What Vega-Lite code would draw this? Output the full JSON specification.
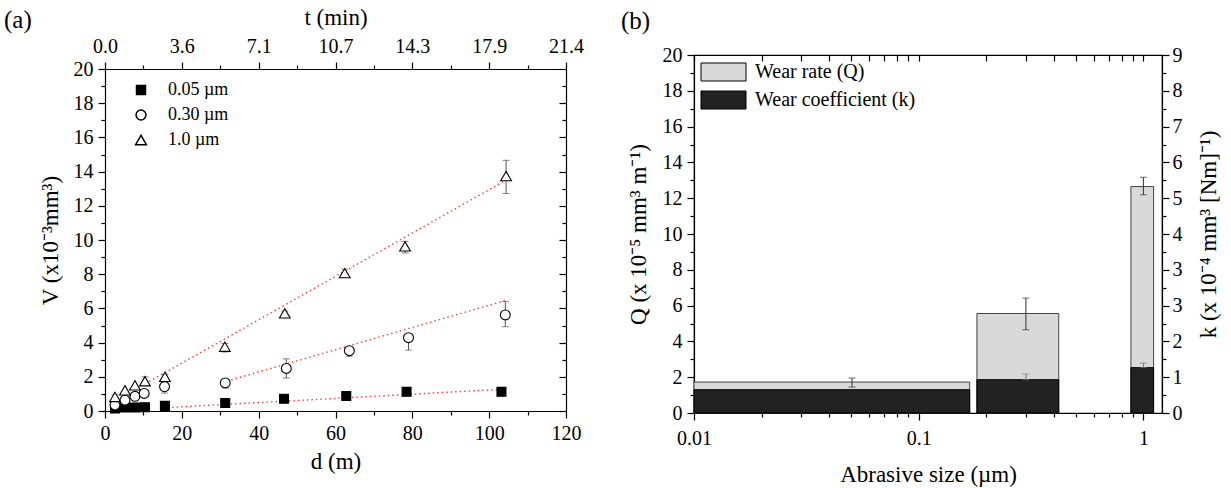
{
  "$schema": "https://vega.github.io/schema/vega-lite/v6.json",
  "background": "white",
  "autosize": {"type": "pad"},
  "padding": {"left": 4, "top": 6, "right": 0, "bottom": 0},
  "spacing": 36,
  "datasets": {
    "pts": [
      {"series": "0.05 µm", "d": 2.6, "V": 0.15, "lo": 0.15, "hi": 0.15},
      {"series": "0.05 µm", "d": 5.2, "V": 0.2, "lo": 0.2, "hi": 0.2},
      {"series": "0.05 µm", "d": 7.8, "V": 0.21, "lo": 0.21, "hi": 0.21},
      {"series": "0.05 µm", "d": 10.4, "V": 0.22, "lo": 0.22, "hi": 0.22},
      {"series": "0.05 µm", "d": 15.6, "V": 0.3, "lo": 0.3, "hi": 0.3},
      {"series": "0.05 µm", "d": 31.3, "V": 0.47, "lo": 0.47, "hi": 0.47},
      {"series": "0.05 µm", "d": 46.6, "V": 0.72, "lo": 0.72, "hi": 0.72},
      {"series": "0.05 µm", "d": 62.8, "V": 0.88, "lo": 0.78, "hi": 0.98},
      {"series": "0.05 µm", "d": 78.5, "V": 1.12, "lo": 1.12, "hi": 1.12},
      {"series": "0.05 µm", "d": 103.2, "V": 1.12, "lo": 1.12, "hi": 1.12},
      {"series": "0.30 µm", "d": 2.6, "V": 0.35, "lo": 0.35, "hi": 0.35},
      {"series": "0.30 µm", "d": 5.2, "V": 0.63, "lo": 0.63, "hi": 0.63},
      {"series": "0.30 µm", "d": 7.8, "V": 0.86, "lo": 0.86, "hi": 0.86},
      {"series": "0.30 µm", "d": 10.2, "V": 1.03, "lo": 1.03, "hi": 1.03},
      {"series": "0.30 µm", "d": 15.5, "V": 1.43, "lo": 1.05, "hi": 1.55},
      {"series": "0.30 µm", "d": 31.3, "V": 1.64, "lo": 1.35, "hi": 1.85},
      {"series": "0.30 µm", "d": 47.2, "V": 2.49, "lo": 1.93, "hi": 3.05},
      {"series": "0.30 µm", "d": 63.6, "V": 3.53, "lo": 3.2, "hi": 3.75},
      {"series": "0.30 µm", "d": 79.0, "V": 4.29, "lo": 3.56, "hi": 4.4},
      {"series": "0.30 µm", "d": 104.2, "V": 5.62, "lo": 4.93, "hi": 6.4},
      {"series": "1.0 µm", "d": 2.6, "V": 0.82, "lo": 0.65, "hi": 0.95},
      {"series": "1.0 µm", "d": 5.2, "V": 1.21, "lo": 1.21, "hi": 1.21},
      {"series": "1.0 µm", "d": 7.8, "V": 1.5, "lo": 1.5, "hi": 1.5},
      {"series": "1.0 µm", "d": 10.4, "V": 1.74, "lo": 1.5, "hi": 2.0},
      {"series": "1.0 µm", "d": 15.6, "V": 2.0, "lo": 1.85, "hi": 2.15},
      {"series": "1.0 µm", "d": 31.2, "V": 3.76, "lo": 3.45, "hi": 3.95},
      {"series": "1.0 µm", "d": 46.8, "V": 5.71, "lo": 5.55, "hi": 5.85},
      {"series": "1.0 µm", "d": 62.4, "V": 8.06, "lo": 7.85, "hi": 8.3},
      {"series": "1.0 µm", "d": 78.1, "V": 9.63, "lo": 9.24, "hi": 9.92},
      {"series": "1.0 µm", "d": 104.4, "V": 13.74, "lo": 12.72, "hi": 14.66}
    ],
    "fits": [
      {"series": "1.0 µm", "d": 11.5, "V": 1.72},
      {"series": "1.0 µm", "d": 103.6, "V": 13.4},
      {"series": "0.30 µm", "d": 30.6, "V": 1.67},
      {"series": "0.30 µm", "d": 104.2, "V": 6.46},
      {"series": "0.05 µm", "d": 16.3, "V": 0.2},
      {"series": "0.05 µm", "d": 103.2, "V": 1.27}
    ],
    "bars": [
      {"size": "0.05", "x0": 0.01, "x1": 0.1686, "xe": 0.0505, "Q": 1.73, "Qlo": 1.45, "Qhi": 1.95, "k": 0.585, "khi": 0.585},
      {"size": "0.30", "x0": 0.1816, "x1": 0.42, "xe": 0.3, "Q": 5.56, "Qlo": 4.65, "Qhi": 6.42, "k": 0.837, "khi": 0.98},
      {"size": "1.0", "x0": 0.88, "x1": 1.11, "xe": 1.0, "Q": 12.65, "Qlo": 12.19, "Qhi": 13.17, "k": 1.14, "khi": 1.255}
    ]
  },
  "resolve": {
    "scale": {"shape": "independent", "fill": "independent", "size": "independent"},
    "legend": {"shape": "independent", "fill": "independent", "size": "independent"}
  },
  "config": {
    "font": "Liberation Serif",
    "view": {"stroke": "black", "strokeWidth": 1.2},
    "axis": {
      "labelFont": "Liberation Serif", "labelFontSize": 20, "labelColor": "black",
      "titleFont": "Liberation Serif", "titleFontSize": 23, "titleFontWeight": "normal", "titleColor": "black",
      "tickColor": "black", "domainColor": "black", "tickWidth": 1.2, "domainWidth": 1.2,
      "grid": false, "labelFlush": false, "labelOverlap": false
    },
    "legend": {"labelFont": "Liberation Serif", "labelColor": "black"},
    "title": {"font": "Liberation Serif", "fontWeight": "normal", "color": "black"}
  },
  "hconcat": [
    {
      "width": 461,
      "height": 356,
      "view": {"stroke": null},
      "title": {"text": "(a)", "anchor": "start", "frame": "bounds", "fontSize": 25, "offset": 0, "dx": -35, "dy": 27},
      "resolve": {"axis": {"x": "independent", "y": "independent"}},
      "layer": [
        {
          "data": {"name": "pts"},
          "transform": [{"filter": "datum.hi > datum.lo"}],
          "mark": {"type": "errorbar", "ticks": {"size": 7, "color": "#555"}, "rule": {"color": "#555"}, "thickness": 1},
          "encoding": {
            "x": {"field": "d", "type": "quantitative", "scale": {"domain": [0, 120], "nice": false}, "axis": null},
            "y": {"field": "lo", "type": "quantitative", "scale": {"domain": [0, 20], "nice": false, "range": [356, 14]}, "axis": null},
            "y2": {"field": "hi"}
          }
        },
        {
          "data": {"name": "fits"},
          "mark": {"type": "line", "color": "#ff3b3b", "strokeDash": [1.5, 3], "strokeWidth": 1.4},
          "encoding": {
            "x": {"field": "d", "type": "quantitative", "scale": {"domain": [0, 120], "nice": false},
              "axis": {"orient": "bottom", "values": [10, 30, 50, 70, 90, 110], "tickSize": 4, "labels": false, "domain": false, "title": null}},
            "y": {"field": "V", "type": "quantitative", "scale": {"domain": [0, 20], "nice": false, "range": [356, 14]},
              "axis": {"orient": "left", "values": [1, 3, 5, 7, 9, 11, 13, 15, 17, 19], "tickSize": 4, "labels": false, "domain": false, "title": null}},
            "detail": {"field": "series"}
          }
        },
        {
          "data": {"name": "pts"},
          "mark": {"type": "point", "opacity": 0},
          "encoding": {
            "x": {"field": "d", "type": "quantitative", "scale": {"domain": [0, 120], "nice": false},
              "axis": {"orient": "top", "offset": -14, "values": [0, 20, 40, 60, 80, 100, 120], "tickSize": 7, "labelPadding": 6,
                "labelExpr": "format(datum.value * 0.1787, '.1f')", "domain": true, "title": "t (min)", "titlePadding": 7}},
            "y": {"field": "V", "type": "quantitative", "scale": {"domain": [0, 20], "nice": false, "range": [356, 14]},
              "axis": {"orient": "right", "values": [0, 2, 4, 6, 8, 10, 12, 14, 16, 18, 20], "tickSize": -7, "labels": false, "domain": true, "title": null}}
          }
        },
        {
          "data": {"name": "pts"},
          "mark": {"type": "point", "opacity": 0},
          "encoding": {
            "x": {"field": "d", "type": "quantitative", "scale": {"domain": [0, 120], "nice": false},
              "axis": {"orient": "top", "offset": -14, "values": [10, 30, 50, 70, 90, 110], "tickSize": 4, "labels": false, "domain": false, "title": null}},
            "y": {"field": "V", "type": "quantitative", "scale": {"domain": [0, 20], "nice": false, "range": [356, 14]},
              "axis": {"orient": "right", "values": [1, 3, 5, 7, 9, 11, 13, 15, 17, 19], "tickSize": -4, "labels": false, "domain": false, "title": null}}
          }
        },
        {
          "data": {"name": "pts"},
          "mark": {"type": "point", "filled": true, "stroke": "black", "strokeWidth": 1.1, "opacity": 1},
          "encoding": {
            "x": {"field": "d", "type": "quantitative", "scale": {"domain": [0, 120], "nice": false},
              "axis": {"orient": "bottom", "values": [0, 20, 40, 60, 80, 100, 120], "tickSize": 7, "labelPadding": 5, "title": "d (m)", "titlePadding": 7}},
            "y": {"field": "V", "type": "quantitative", "scale": {"domain": [0, 20], "nice": false, "range": [356, 14]},
              "axis": {"orient": "left", "values": [0, 2, 4, 6, 8, 10, 12, 14, 16, 18, 20], "tickSize": 7, "labelPadding": 5, "title": "V (x10⁻³mm³)", "titlePadding": 11}},
            "shape": {"field": "series", "type": "nominal",
              "scale": {"domain": ["0.05 µm", "0.30 µm", "1.0 µm"], "range": ["square", "circle", "triangle-up"]},
              "legend": {"title": null, "orient": "none", "legendX": 27, "legendY": 26, "padding": 0, "labelFontSize": 18, "labelOffset": 18, "rowPadding": 7,
                "encode": {"symbols": {"update": {"stroke": {"value": "black"}, "strokeWidth": {"value": 1.1}}}}}},
            "fill": {"field": "series", "type": "nominal",
              "scale": {"domain": ["0.05 µm", "0.30 µm", "1.0 µm"], "range": ["black", "white", "white"]},
              "legend": {"title": null, "orient": "none", "legendX": 27, "legendY": 26, "padding": 0, "labelFontSize": 18, "labelOffset": 18, "rowPadding": 7,
                "encode": {"symbols": {"update": {"stroke": {"value": "black"}, "strokeWidth": {"value": 1.1}}}}}},
            "size": {"field": "series", "type": "nominal",
              "scale": {"domain": ["0.05 µm", "0.30 µm", "1.0 µm"], "range": [80, 115, 140]},
              "legend": {"title": null, "orient": "none", "legendX": 27, "legendY": 26, "padding": 0, "labelFontSize": 18, "labelOffset": 18, "rowPadding": 7,
                "encode": {"symbols": {"update": {"stroke": {"value": "black"}, "strokeWidth": {"value": 1.1}}}}}}
          }
        }
      ]
    },
    {
      "width": 468,
      "height": 358,
      "title": {"text": "(b)", "anchor": "start", "frame": "bounds", "fontSize": 25, "offset": 11, "dx": -6},
      "resolve": {"scale": {"y": "independent"}, "axis": {"x": "independent", "y": "independent"}},
      "layer": [
        {
          "data": {"name": "bars"},
          "mark": {"type": "rect", "stroke": "#444", "strokeWidth": 1},
          "encoding": {
            "x": {"field": "x0", "type": "quantitative", "scale": {"type": "log", "domain": [0.01, 1.21], "nice": false},
              "axis": {"orient": "bottom", "values": [0.01, 0.1, 1], "format": "~g", "tickSize": 7, "labelPadding": 8, "title": "Abrasive size (µm)", "titlePadding": 15}},
            "x2": {"field": "x1"},
            "y": {"field": "Q", "type": "quantitative", "scale": {"domain": [0, 20], "nice": false},
              "axis": {"orient": "left", "values": [0, 2, 4, 6, 8, 10, 12, 14, 16, 18, 20], "tickSize": 7, "labelPadding": 5, "title": "Q (x 10⁻⁵ mm³ m⁻¹)", "titlePadding": 12}},
            "y2": {"datum": 0},
            "fill": {"datum": "Wear rate (Q)", "type": "nominal",
              "scale": {"domain": ["Wear rate (Q)", "Wear coefficient (k)"], "range": ["#d9d9d9", "#222222"]},
              "legend": {"title": null, "orient": "none", "legendX": 19.5, "legendY": 7, "padding": 0,
                "symbolType": "M-2.5,-1H2.5V1H-2.5Z", "symbolSize": 324, "symbolStrokeColor": "#333", "symbolStrokeWidth": 1,
                "labelFontSize": 20, "labelOffset": 21.5, "labelLimit": 400, "rowPadding": 6}}
          }
        },
        {
          "data": {"name": "bars"},
          "mark": {"type": "rect", "stroke": "black", "strokeWidth": 1},
          "encoding": {
            "x": {"field": "x0", "type": "quantitative", "scale": {"type": "log", "domain": [0.01, 1.21], "nice": false},
              "axis": {"orient": "top", "values": [0.01, 0.02, 0.03, 0.04, 0.05, 0.06, 0.07, 0.08, 0.09, 0.1, 0.2, 0.3, 0.4, 0.5, 0.6, 0.7, 0.8, 0.9, 1], "tickSize": -6, "labels": false, "domain": false, "title": null}},
            "x2": {"field": "x1"},
            "y": {"field": "k", "type": "quantitative", "scale": {"domain": [0, 9], "nice": false},
              "axis": {"orient": "right", "values": [0, 0.9, 1.8, 2.7, 3.6, 4.5, 5.4, 6.3, 7.2, 8.1, 9], "tickSize": 7, "labelPadding": 3,
                "labelExpr": "['0','1','2','3','3','4','5','6','7','8','9'][round(datum.value / 0.9)]",
                "title": "k (x 10⁻⁴ mm³ [Nm]⁻¹)", "titleAngle": 270, "titleBaseline": "top", "titlePadding": 15}},
            "y2": {"datum": 0},
            "fill": {"datum": "Wear coefficient (k)", "type": "nominal"}
          }
        },
        {
          "data": {"name": "bars"},
          "mark": {"type": "point", "opacity": 0},
          "encoding": {
            "x": {"field": "xe", "type": "quantitative", "scale": {"type": "log", "domain": [0.01, 1.21], "nice": false},
              "axis": {"orient": "bottom", "values": [0.02, 0.03, 0.04, 0.05, 0.06, 0.07, 0.08, 0.09, 0.2, 0.3, 0.4, 0.5, 0.6, 0.7, 0.8, 0.9], "tickSize": 4, "labels": false, "domain": false, "title": null}},
            "y": {"field": "Q", "type": "quantitative", "scale": {"domain": [0, 20], "nice": false},
              "axis": {"orient": "left", "values": [1, 3, 5, 7, 9, 11, 13, 15, 17, 19], "tickSize": 4, "labels": false, "domain": false, "title": null}}
          }
        },
        {
          "data": {"name": "bars"},
          "mark": {"type": "point", "opacity": 0},
          "encoding": {
            "x": {"field": "xe", "type": "quantitative", "scale": {"type": "log", "domain": [0.01, 1.21], "nice": false}, "axis": null},
            "y": {"field": "k", "type": "quantitative", "scale": {"domain": [0, 9], "nice": false},
              "axis": {"orient": "right", "values": [0.45, 1.35, 2.25, 3.15, 4.05, 4.95, 5.85, 6.75, 7.65, 8.55], "tickSize": 4, "labels": false, "domain": false, "title": null}}
          }
        },
        {
          "data": {"name": "bars"},
          "mark": {"type": "errorbar", "ticks": {"size": 7, "color": "#333"}, "rule": {"color": "#333"}, "thickness": 1},
          "encoding": {
            "x": {"field": "xe", "type": "quantitative", "scale": {"type": "log", "domain": [0.01, 1.21], "nice": false}, "axis": null},
            "y": {"field": "Qlo", "type": "quantitative", "scale": {"domain": [0, 20], "nice": false}, "axis": null},
            "y2": {"field": "Qhi"}
          }
        },
        {
          "data": {"name": "bars"},
          "transform": [{"filter": "datum.khi > datum.k"}],
          "mark": {"type": "errorbar", "ticks": {"size": 7, "color": "#777"}, "rule": {"color": "#777"}, "thickness": 1},
          "encoding": {
            "x": {"field": "xe", "type": "quantitative", "scale": {"type": "log", "domain": [0.01, 1.21], "nice": false}, "axis": null},
            "y": {"field": "k", "type": "quantitative", "scale": {"domain": [0, 9], "nice": false}, "axis": null},
            "y2": {"field": "khi"}
          }
        }
      ]
    }
  ]
}
